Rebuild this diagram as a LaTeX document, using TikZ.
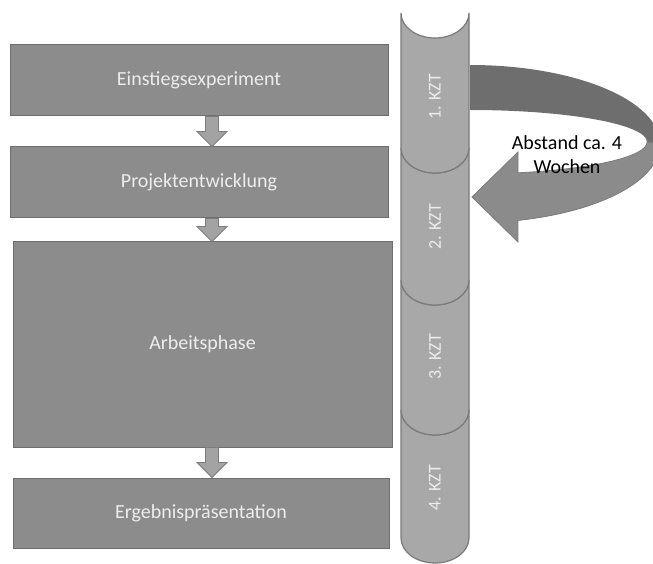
\documentclass[tikz,border=0pt]{standalone}
\usepackage{fontspec}
\setmainfont{Carlito}
\usepackage{xcolor}
\usepackage{tikz}
\usetikzlibrary{calc}

\definecolor{boxgray}{HTML}{8C8C8C}
\definecolor{boxline}{HTML}{6E6E6E}
\definecolor{arrgray}{HTML}{A3A3A3}
\definecolor{arrline}{HTML}{7C7C7C}
\definecolor{cylgray}{HTML}{A8A8A8}
\definecolor{cylline}{HTML}{7A7A7A}
\definecolor{backband}{HTML}{6E6E6E}
\definecolor{frontband}{HTML}{8B8B8B}
\definecolor{pale}{HTML}{EDEDED}

\tikzset{
	phase/.style={draw=boxline,fill=boxgray,line width=1pt,inner sep=0pt,
		text=pale,font=\fontsize{20}{24}\selectfont},
	downarrow/.style={draw=arrline,fill=arrgray,line width=.8pt},
	segment/.style={draw=cylline,fill=cylgray,line width=1.2pt},
	kzt/.style={rotate=90,text=pale,font=\fontsize{18}{22}\selectfont},
	note/.style={align=center,font=\fontsize{20}{24}\selectfont}
}

\begin{document}
\begin{tikzpicture}[x=1pt,y=1pt]
	\useasboundingbox (0,0) rectangle (653,563);
	\clip (0,0) rectangle (653,563);
	
	\node[phase,minimum width=378pt,minimum height=71pt] (einstieg) at (199,482.5) {Einstiegsexperiment};
	\node[phase,minimum width=378pt,minimum height=71pt] (projekt) at (199,380.5) {Projektentwicklung};
	\node[phase,minimum width=379pt,minimum height=205pt] (arbeit) at (202.5,218.5) {Arbeitsphase};
	\node[phase,minimum width=376pt,minimum height=70pt] (ergebnis) at (201,50) {Ergebnispräsentation};
	
	\foreach \a/\b in {einstieg/projekt,projekt/arbeit,arbeit/ergebnis}{
		\path (\a.south -| 212,0) coordinate (s) (\b.north -| 212,0) coordinate (t);
		\draw[downarrow] ($(s)+(-6.5,0)$) -- ($(t)+(-6.5,15)$) -- ($(t)+(-15,15)$) -- (t)
			-- ($(t)+(15,15)$) -- ($(t)+(6.5,15)$) -- ($(s)+(6.5,0)$) -- cycle;
	}
	
	\foreach \n/\ya/\yb/\yl in {4/153/25/75,3/283/153/206,2/415/283/336,1/550/415/466}{
		\draw[segment] (401,\ya) arc[start angle=180,end angle=360,x radius=34pt,y radius=25pt]
			-- (469,\yb) arc[start angle=0,end angle=-180,x radius=34pt,y radius=25pt] -- cycle;
		\node[kzt] (kzt\n) at (435,\yl) {\n. KZT};
	}
	
	\fill[backband] (470,498) arc[start angle=90,end angle=0,x radius=190pt,y radius=79pt]
		-- (647,421) arc[start angle=0,end angle=90,x radius=177pt,y radius=32pt] -- cycle;
	\draw[draw=arrline,fill=frontband,line width=.8pt] (660,419)
		arc[start angle=0,end angle=-75.4,x radius=190pt,y radius=79pt]
		-- (518,321) -- (472,366) -- (518,411) -- (518,390.2)
		arc[start angle=-74.3,end angle=0,x radius=177pt,y radius=32pt] -- cycle;
	\node[note] (abstand) at (567,408) {Abstand ca. 4\\Wochen};
\end{tikzpicture}
\end{document}
